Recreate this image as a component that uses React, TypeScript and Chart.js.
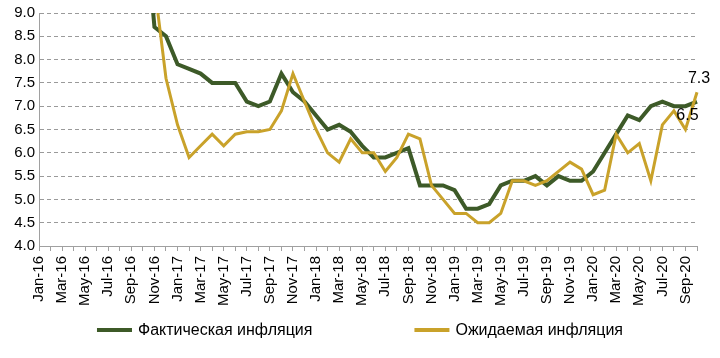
import React, { useEffect, useRef } from "react";
import { Chart, registerables } from "chart.js";

Chart.register(...registerables);

const months = ["Jan", "Feb", "Mar", "Apr", "May", "Jun", "Jul", "Aug", "Sep", "Oct", "Nov", "Dec"];
const years = ["16", "17", "18", "19", "20"];
const categories: string[] = [];
years.forEach((y) => months.forEach((m) => categories.push(`${m}-${y}`)));
const monthLabels = categories.slice(0, 58); // Jan-16 .. Oct-20

const seriesNames = ["Фактическая инфляция", "Ожидаемая инфляция"];

const actualInflation: (number | null)[] = [
  null, null, null, null, null, null, null, null, null, 11.5, 8.7, 8.5,
  7.9, 7.8, 7.7, 7.5, 7.5, 7.5, 7.1, 7.0, 7.1, 7.7, 7.3, 7.1,
  6.8, 6.5, 6.6, 6.45, 6.15, 5.9, 5.9, 6.0, 6.1, 5.3, 5.3, 5.3,
  5.2, 4.8, 4.8, 4.9, 5.3, 5.4, 5.4, 5.5, 5.3, 5.5, 5.4, 5.4,
  5.6, 6.0, 6.4, 6.8, 6.7, 7.0, 7.1, 7.0, 7.0, 7.1,
];

const expectedInflation: (number | null)[] = [
  null, null, null, null, null, null, null, null, null, null, 9.6, 7.6,
  6.6, 5.9, 6.15, 6.4, 6.15, 6.4, 6.45, 6.45, 6.5, 6.9, 7.7, 7.1,
  6.5, 6.0, 5.8, 6.3, 6.0, 6.0, 5.6, 5.9, 6.4, 6.3, 5.3, 5.0,
  4.7, 4.7, 4.5, 4.5, 4.7, 5.4, 5.4, 5.3, 5.4, 5.6, 5.8, 5.65,
  5.1, 5.2, 6.4, 6.0, 6.2, 5.4, 6.6, 6.9, 6.5, 7.3,
];

// points of the expected series that carry a value label
const labelledIndexes = [56, 57];

const yMin = 4.0;
const yMax = 9.0;
const yStep = 0.5;

const GREEN = "#3d5a28";
const GOLD = "#c9a22a";
const FONT = '"Liberation Sans", Arial, sans-serif';

const bottomLegend = {
  id: "bottomLegend",
  afterDraw(chart: any) {
    const ctx = chart.ctx;
    ctx.save();
    ctx.font = `16px ${FONT}`;
    const items = chart.data.datasets.map((ds: any) => ({ text: ds.label, color: ds.borderColor }));
    const sw = 35;
    const sg = 6;
    const gap = 102;
    const widths = items.map((it: any) => sw + sg + ctx.measureText(it.text).width);
    const total = widths.reduce((a: number, b: number) => a + b, 0) + gap * (items.length - 1);
    let x = (chart.width - total) / 2;
    const y = 330;
    items.forEach((it: any, i: number) => {
      ctx.fillStyle = it.color;
      ctx.fillRect(x, y - 2, sw, 4);
      ctx.fillStyle = "#000";
      ctx.textBaseline = "middle";
      ctx.textAlign = "left";
      ctx.fillText(it.text, x + sw + sg, y + 1);
      x += widths[i] + gap;
    });
    ctx.restore();
  },
};

const pointLabels = {
  id: "pointLabels",
  afterDatasetsDraw(chart: any) {
    const ctx = chart.ctx;
    const meta = chart.getDatasetMeta(1);
    ctx.save();
    ctx.font = `16px ${FONT}`;
    ctx.fillStyle = "#000";
    ctx.textAlign = "center";
    ctx.textBaseline = "bottom";
    labelledIndexes.forEach((i) => {
      const p = meta.data[i];
      const v = expectedInflation[i];
      if (!p || v == null) return;
      ctx.fillText(v.toFixed(1), p.x + 2, p.y - 6);
    });
    ctx.restore();
  },
};

export default function App() {
  const ref = useRef<HTMLCanvasElement | null>(null);

  useEffect(() => {
    document.body.style.margin = "0";
    if (!ref.current) return;
    const chart = new Chart(ref.current, {
      type: "line",
      data: {
        labels: monthLabels,
        datasets: [
          {
            label: seriesNames[0],
            data: actualInflation,
            borderColor: GREEN,
            backgroundColor: GREEN,
            borderWidth: 4,
            pointRadius: 0,
            tension: 0,
            order: 2,
            clip: { left: 5, right: 5, top: 0, bottom: 5 } as any,
          },
          {
            label: seriesNames[1],
            data: expectedInflation,
            borderColor: GOLD,
            backgroundColor: GOLD,
            borderWidth: 3,
            pointRadius: 0,
            tension: 0,
            order: 1,
            clip: { left: 5, right: 5, top: 0, bottom: 5 } as any,
          },
        ],
      },
      options: {
        responsive: false,
        animation: false,
        devicePixelRatio: 1,
        layout: { padding: { top: 12, right: 15, left: 0, bottom: 0 } },
        plugins: {
          legend: { display: false },
          tooltip: { enabled: false },
        },
        scales: {
          x: {
            offset: false,
            grid: {
              display: true,
              drawOnChartArea: false,
              drawTicks: true,
              tickLength: 5,
              color: "#a0a0a0",
            },
            border: { display: true, color: "#a0a0a0", width: 1 },
            ticks: {
              autoSkip: false,
              maxRotation: 90,
              minRotation: 90,
              padding: 5,
              color: "#000",
              font: { family: FONT, size: 15 },
              callback: (_v: any, i: number) => (i % 2 === 0 ? monthLabels[i] : ""),
            },
            afterFit: (scale: any) => {
              scale.height = 112;
            },
          },
          y: {
            min: yMin,
            max: yMax,
            ticks: {
              stepSize: yStep,
              padding: 4,
              color: "#000",
              font: { family: FONT, size: 15 },
              callback: (v: any) => Number(v).toFixed(1),
            },
            grid: {
              color: "#9a9a9a",
              lineWidth: 1,
              drawTicks: false,
            },
            border: { display: true, color: "#a0a0a0", width: 1, dash: [4, 3] },
            afterFit: (scale: any) => {
              scale.width = 39;
            },
          },
        },
      },
      plugins: [bottomLegend, pointLabels],
    });
    return () => chart.destroy();
  }, []);

  return (
    <div style={{ width: 720, height: 358, background: "#fff" }}>
      <canvas ref={ref} width={720} height={358} />
    </div>
  );
}
